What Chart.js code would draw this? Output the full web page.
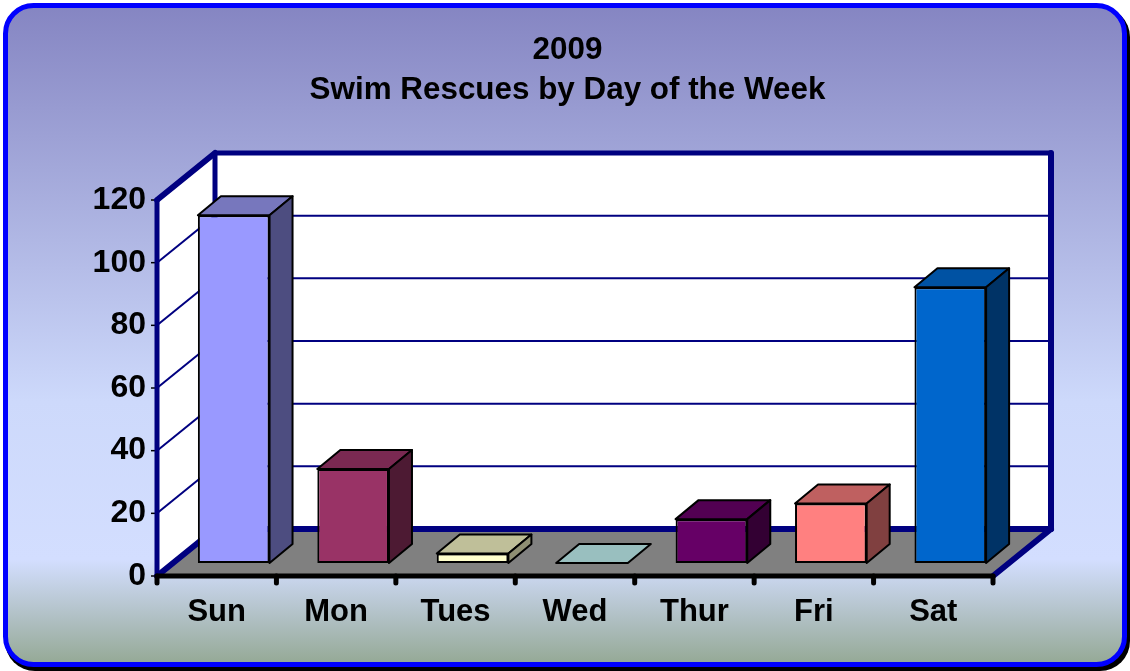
<!DOCTYPE html>
<html>
<head>
<meta charset="utf-8">
<script src="https://cdn.jsdelivr.net/npm/chart.js@4/dist/chart.umd.min.js"></script>
<style>
  html, body { margin: 0; padding: 0; background: #fff; }
  canvas { display: block; }
</style>
</head>
<body>
<canvas id="rescues" width="1130" height="671"></canvas>
<script>
const days = ['Sun', 'Mon', 'Tues', 'Wed', 'Thur', 'Fri', 'Sat'];
const rescues = [111, 30, 3, 0, 14, 19, 88];
const frontColors = ['#9999ff', '#993366', '#ffffcc', '#ccffff', '#660066', '#ff8080', '#0066cc'];
const topColors = ['#7777bd', '#7a2952', '#bfbf99', '#99bfbf', '#520052', '#bf6060', '#0052a3'];
const sideColors = ['#4d4d80', '#4d1a33', '#8f8f73', '#739090', '#330033', '#804040', '#003366'];
const yTicks = [0, 20, 40, 60, 80, 100, 120];

const navy = '#000080';
const wallDepth = { x: 58, y: -47 };
const barOffset = { x: 17, y: -13 };
const barDepth = { x: 23, y: -19 };
const font = 'Liberation Sans, Arial, sans-serif';

function poly(ctx, pts, fill, stroke, width) {
  ctx.beginPath();
  pts.forEach((p, i) => (i ? ctx.lineTo(p[0], p[1]) : ctx.moveTo(p[0], p[1])));
  ctx.closePath();
  if (fill) {
    ctx.fillStyle = fill;
    ctx.fill();
  }
  if (stroke) {
    ctx.strokeStyle = stroke;
    ctx.lineWidth = width;
    ctx.lineJoin = 'round';
    ctx.stroke();
  }
}

function line(ctx, x1, y1, x2, y2, color, width) {
  ctx.beginPath();
  ctx.moveTo(x1, y1);
  ctx.lineTo(x2, y2);
  ctx.strokeStyle = color;
  ctx.lineWidth = width;
  ctx.stroke();
}

// rounded panel behind everything
const panel = {
  id: 'panel',
  beforeDraw: (chart) => {
    const { ctx } = chart;
    ctx.save();
    ctx.beginPath();
    ctx.roundRect(5, 7, 1125, 664, 30);
    ctx.fillStyle = '#000';
    ctx.fill();
    const g = ctx.createLinearGradient(0, 5, 0, 665);
    g.addColorStop(0, '#8585c2');
    g.addColorStop(0.6, '#cdd9fb');
    g.addColorStop(0.84, '#d3deff');
    g.addColorStop(1, '#94a894');
    ctx.beginPath();
    ctx.roundRect(5.5, 5.5, 1119, 659, 28);
    ctx.fillStyle = g;
    ctx.fill();
    ctx.strokeStyle = '#0000ff';
    ctx.lineWidth = 5;
    ctx.stroke();
    ctx.restore();
  },
};

// walls, floor and grid of the fake 3D box, placed from the scales
const box = {
  id: 'box',
  beforeDatasetsDraw: (chart) => {
    const { ctx, scales } = chart;
    const { x, y } = scales;
    const left = x.left;
    const right = x.right;
    const y0 = y.getPixelForValue(0);
    const yTop = y.getPixelForValue(120);
    const dx = wallDepth.x;
    const dy = wallDepth.y;
    ctx.save();
    poly(ctx, [[left, y0], [left + dx, y0 + dy], [left + dx, yTop + dy], [left, yTop]], '#fff');
    ctx.fillStyle = '#fff';
    ctx.fillRect(left + dx, yTop + dy, right - left, y0 - yTop);
    poly(ctx, [[left, y0], [left + dx, y0 + dy], [right + dx, y0 + dy], [right, y0]], '#808080');

    yTicks.forEach((t) => {
      const py = y.getPixelForValue(t);
      if (t > 0 && t < 120) {
        line(ctx, left, py, left + dx, py + dy, navy, 2);
        line(ctx, left + dx, py + dy, right + dx, py + dy, navy, 2);
      }
      line(ctx, left - 6, py, left, py, '#000', 1.5);
    });

    ctx.lineCap = 'round';
    line(ctx, left, yTop, left + dx, yTop + dy, navy, 6);
    line(ctx, left + dx, yTop + dy, right + dx, yTop + dy, navy, 5);
    line(ctx, right + dx, yTop + dy, right + dx, y0 + dy, navy, 6);
    line(ctx, left + dx, yTop + dy, left + dx, y0 + dy, navy, 5);
    line(ctx, left + dx, y0 + dy, right + dx, y0 + dy, navy, 6);
    line(ctx, left, y0, left + dx, y0 + dy, navy, 6);
    line(ctx, right, y0, right + dx, y0 + dy, navy, 6);
    line(ctx, left, yTop, left, y0, navy, 5);

    line(ctx, left, y0, right, y0, '#000', 5);
    const step = (right - left) / days.length;
    for (let i = 0; i <= days.length; i++) {
      const px = x.getPixelForValue(0) - step / 2 + step * i;
      line(ctx, px, y0, px, y0 + 7, '#000', 5);
    }
    ctx.restore();
  },
  beforeDatasetDraw: (chart) => {
    chart.ctx.save();
    chart.ctx.translate(barOffset.x, barOffset.y);
  },
  afterDatasetDraw: (chart, args) => {
    const { ctx } = chart;
    const dx = barDepth.x;
    const dy = barDepth.y;
    args.meta.data.forEach((bar, i) => {
      const { x, y, base, width } = bar.getProps(['x', 'y', 'base', 'width'], true);
      const l = x - width / 2;
      const r = x + width / 2;
      poly(ctx, [[l, y], [l + dx, y + dy], [r + dx, y + dy], [r, y]], topColors[i], '#000', 2);
      if (base - y > 0) {
        poly(ctx, [[r, y], [r + dx, y + dy], [r + dx, base + dy], [r, base]], sideColors[i], '#000', 2);
      }
    });
    ctx.restore();
  },
};

new Chart(document.getElementById('rescues'), {
  type: 'bar',
  data: {
    labels: days,
    datasets: [
      {
        data: rescues,
        backgroundColor: frontColors,
        borderColor: '#000',
        borderWidth: 2,
        borderSkipped: false,
        barPercentage: 0.6,
        categoryPercentage: 1,
        clip: false,
      },
    ],
  },
  options: {
    responsive: false,
    animation: false,
    layout: { padding: { left: 5 } },
    plugins: {
      legend: { display: false },
      tooltip: { enabled: false },
      title: {
        display: true,
        text: ['2009', 'Swim Rescues by Day of the Week'],
        color: '#000',
        font: { family: font, size: 31.4, weight: 'bold', lineHeight: 1.274 },
        padding: { top: 30, bottom: 90 },
        align: 'center',
      },
    },
    scales: {
      x: {
        grid: { display: false, drawTicks: false },
        border: { display: false },
        ticks: { color: '#000', padding: 18, maxRotation: 0, font: { family: font, size: 31, weight: 'bold' } },
        afterFit: (scale) => { scale.height = 95; },
      },
      y: {
        min: 0,
        max: 120,
        grid: { display: false, drawTicks: false },
        border: { display: false },
        afterBuildTicks: (scale) => { scale.ticks = yTicks.map((value) => ({ value })); },
        ticks: { color: '#000', padding: 11, font: { family: font, size: 32, weight: 'bold' } },
        afterFit: (scale) => { scale.width = 152; },
      },
      // empty axis, only keeps the plot clear of the right margin so the title stays centred on the page
      spacer: {
        position: 'right',
        grid: { display: false, drawTicks: false },
        border: { display: false },
        ticks: { display: false },
        afterFit: (scale) => { scale.width = 137; },
      },
    },
  },
  plugins: [panel, box],
});
</script>
</body>
</html>
